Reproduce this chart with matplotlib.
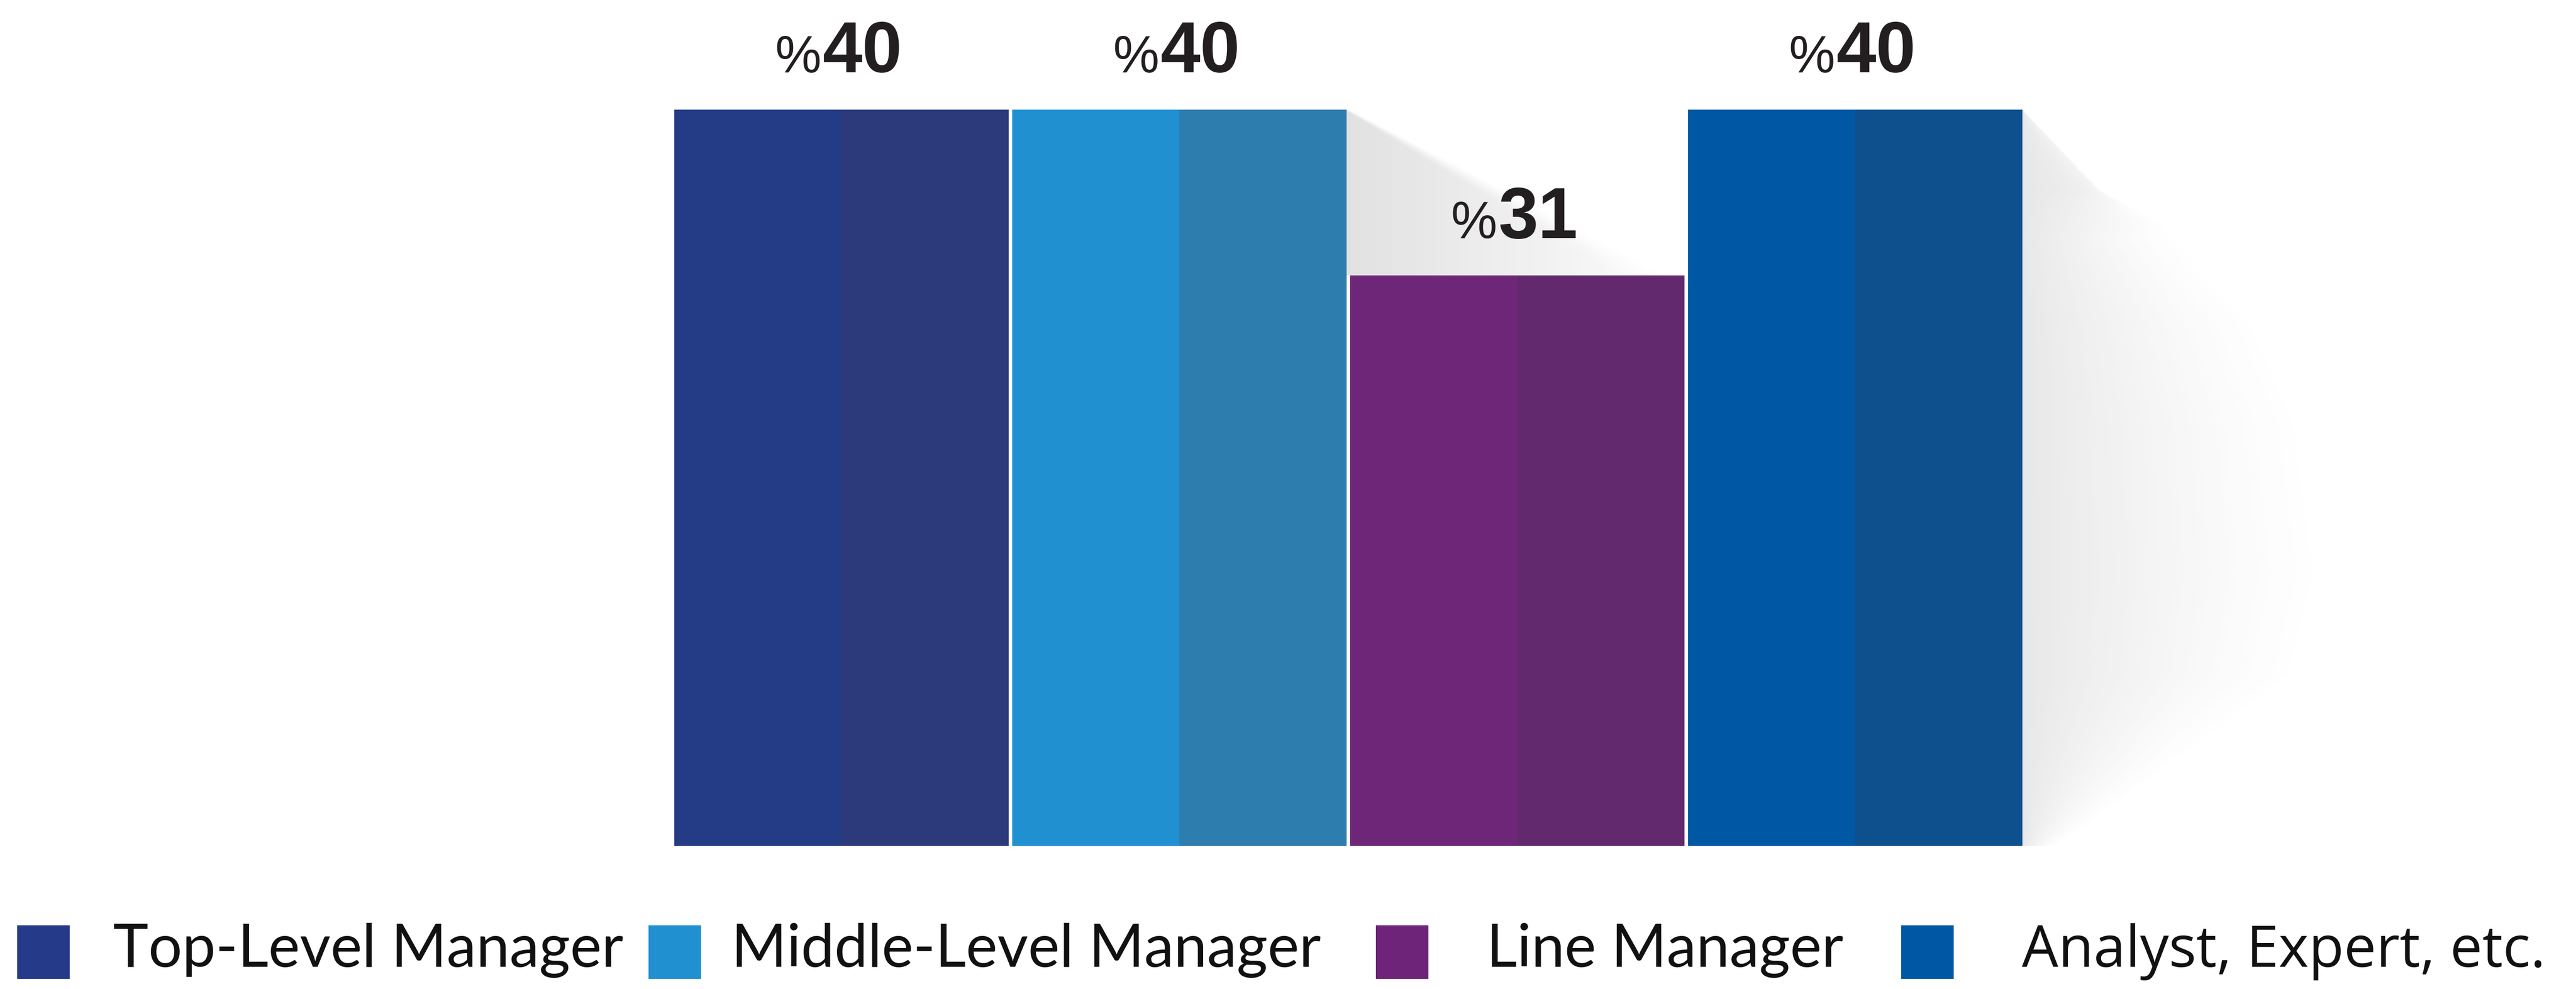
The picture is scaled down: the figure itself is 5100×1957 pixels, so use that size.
import numpy as np
import matplotlib
matplotlib.use('Agg')
import matplotlib.pyplot as plt
from matplotlib.patches import Rectangle

# ---- data ----
categories = ['Top-Level Manager', 'Middle-Level Manager', 'Line Manager', 'Analyst, Expert, etc.']
values = [40, 40, 31, 40]
value_labels = ['40', '40', '31', '40']
colors_left = ['#243B86', '#2190D1', '#6E2778', '#0057A4']
colors_right = ['#2C3A7B', '#2D7DAF', '#62296E', '#0E4F8E']
legend_colors = ['#253A88', '#2190D1', '#6E2479', '#0057A4']

W, H = 5100, 1958
fig = plt.figure(figsize=(W / 100, H / 100), dpi=100)
fig.patch.set_facecolor('white')

# overlay axes in pixel coordinates for the legend
ov = fig.add_axes([0, 0, 1, 1], zorder=0)
ov.set_xlim(0, W)
ov.set_ylim(H, 0)
ov.axis('off')

# main bar axes
ax = fig.add_axes([1331.5 / W, (H - 1675) / H, 2676 / W, 1457 / H], zorder=1)
ax.patch.set_alpha(0)

x = np.arange(len(values))
bw = 0.99
ax.bar(x - bw / 4, values, width=bw / 2, color=colors_left, linewidth=0, zorder=3)
ax.bar(x + bw / 4, values, width=bw / 2, color=colors_right, linewidth=0, zorder=3)


def smooth(z):
    z = np.clip(z, 0, 1)
    return z * z * (3 - 2 * z)


# ---- shadows (decorative) ----
# shadow cast by bar 2 onto the gap above bar 3
x0 = x[1] + bw / 2
x1 = x[2] + bw / 2
ny, nx = 400, 400
xs = np.linspace(x0, x1, nx)
ys = np.linspace(values[2], values[1], ny)
XX, YY = np.meshgrid(xs, ys)
frac = (values[1] - YY) / (values[1] - values[2])
edge = x0 + frac * (x1 - 0.12 - x0)
soft = 0.02 + 0.18 * frac
inside = smooth((edge - XX) / soft + 0.5)
t = (XX - x0) / (x1 - x0)
alpha = inside * (0.16 * (1 - t) ** 1.1 + 0.02)
img = np.zeros((ny, nx, 4))
img[..., :3] = 0.35
img[..., 3] = alpha
ax.imshow(img, extent=(x0, x1, values[2], values[1]), origin='lower', aspect='auto',
          zorder=1, interpolation='bilinear')

# shadow to the right of bar 4
x0 = x[3] + bw / 2
x1 = x0 + 1.05
ny, nx = 800, 500
xs = np.linspace(x0, x1, nx)
ys = np.linspace(0, values[3], ny)
XX, YY = np.meshgrid(xs, ys)
reach = np.interp(YY, [0, 1.1, 4.8, 9.3, 14.7, 22.9, 28.3, 33.7, 35.6, 40],
                  [0.1, 0.2, 0.5, 0.85, 0.93, 0.87, 0.73, 0.43, 0.23, 0.0])
power = np.interp(YY, [0, 33.0, 35.6, 40], [1.4, 1.4, 0.25, 0.25])
d = np.clip(1 - (XX - x0) / np.maximum(reach, 1e-6), 0, 1)
alpha = 0.14 * d ** power
img = np.zeros((ny, nx, 4))
img[..., :3] = 0.35
img[..., 3] = alpha
ax.imshow(img, extent=(x0, x1, 0, values[3]), origin='lower', aspect='auto',
          zorder=1, interpolation='bilinear', clip_on=False)

ax.set_xlim(-0.5, 3.5)
ax.set_ylim(0, 40)
ax.axis('off')

# ---- value labels ----
for xi, v, lab in zip(x, values, value_labels):
    ax.annotate('%', xy=(xi, v), xytext=(-29, 54), textcoords='offset points',
                ha='right', va='baseline', fontsize=74, family='Liberation Sans',
                color='#231F20', zorder=5)
    ax.annotate(lab, xy=(xi, v), xytext=(-27, 54), textcoords='offset points',
                ha='left', va='baseline', fontsize=102, fontweight='bold',
                family='Liberation Sans', color='#231F20', zorder=5)

# ---- legend ----
sq_x = [34, 1284, 2724, 3764]
txt_x = [224, 1448, 2943, 4003]
fonts = ['Lato', 'Lato', 'Lato', 'Open Sans']
sizes = [85, 85, 85, 82]
for c, lab, sx, tx, fnt, fs in zip(legend_colors, categories, sq_x, txt_x, fonts, sizes):
    ov.add_patch(Rectangle((sx, 1832), 104, 106, facecolor=c, edgecolor='none'))
    ov.text(tx, 1913, lab, ha='left', va='baseline', fontsize=fs, family=fnt,
            color='#111111')

fig.savefig('out.png', dpi=100, facecolor='white')
